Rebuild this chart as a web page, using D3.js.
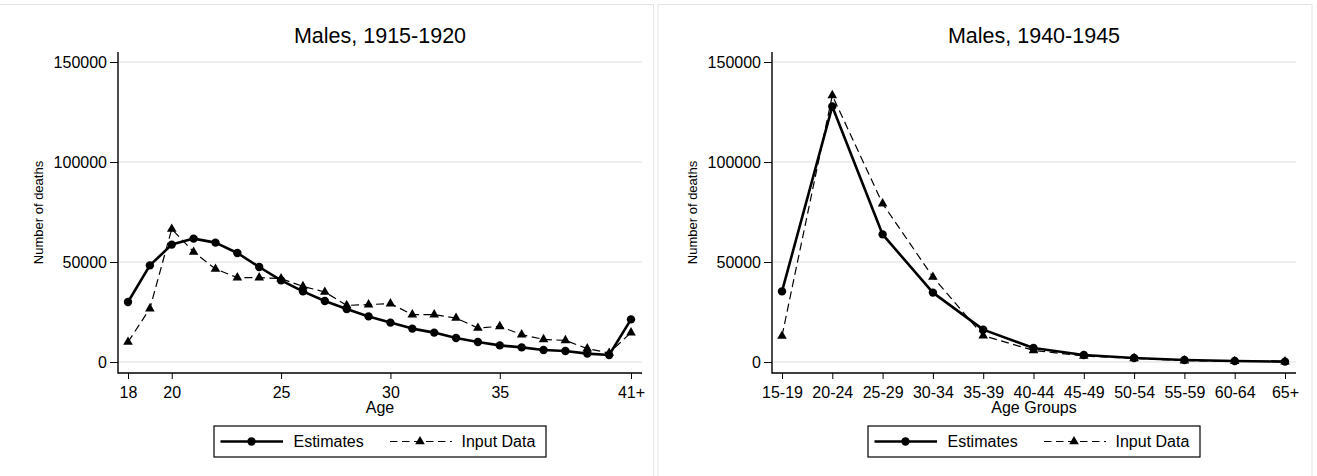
<!DOCTYPE html>
<html>
<head>
<meta charset="utf-8">
<script src="https://cdn.jsdelivr.net/npm/d3@7"></script>
<style>
  body { margin: 0; background: #fff; }
  svg { display: block; font-family: "Liberation Sans", Arial, Helvetica, sans-serif; }
</style>
</head>
<body>
<svg id="chart" width="1317" height="476"></svg>
<script>
// ---- data ----
const ages = [18, 19, 20, 21, 22, 23, 24, 25, 26, 27, 28, 29, 30, 31, 32, 33, 34, 35, 36, 37, 38, 39, 40, 41];
const ageTicks = [18, 20, 25, 30, 35, 41];
const est1915 = [30000, 48300, 58700, 61700, 59700, 54500, 47500, 40800, 35300, 30500, 26500, 22800,
                 19700, 16700, 14700, 12000, 10000, 8300, 7300, 6000, 5500, 4200, 3500, 21300];
const input1915 = [10000, 26700, 66500, 55000, 46500, 42200, 42200, 41700, 37800, 35000, 28300, 28700,
                   29200, 23700, 23700, 22000, 17000, 17800, 13700, 11300, 10800, 6700, 4500, 14700];

const ageGroups = ['15-19', '20-24', '25-29', '30-34', '35-39', '40-44', '45-49', '50-54', '55-59', '60-64', '65+'];
const est1940 = [35300, 127800, 63800, 34700, 16200, 7000, 3500, 2000, 1000, 500, 200];
const input1940 = [13000, 133300, 79200, 42500, 13200, 5800, 3000, 1800, 700, 400, 200];

const yTicks = [0, 50000, 100000, 150000];

const svg = d3.select('#chart');

// light frame round each sub-graph
[[-1, 653], [657.5, 1311.5]].forEach(([x0, x1]) => {
  svg.append('rect')
    .attr('x', x0 + 0.5).attr('y', 4.5)
    .attr('width', x1 - x0).attr('height', 480)
    .attr('fill', 'none').attr('stroke', '#e4e4e4');
});

function panel(opts) {
  const L = opts.left, R = L + 524, T = 52, B = 373;
  const g = svg.append('g');
  const y = d3.scaleLinear().domain([0, 150000]).range([B - 11, T + 10]);
  const x = opts.x.range([L + 10, R - 11]);

  // gridlines
  g.selectAll('.grid').data(yTicks).enter().append('line')
    .attr('x1', L).attr('x2', R)
    .attr('y1', d => y(d)).attr('y2', d => y(d))
    .attr('stroke', '#e9e9e9').attr('stroke-width', 1.5);

  // axes
  const ya = g.append('g').attr('transform', `translate(${L},0)`)
    .call(d3.axisLeft(y).tickValues(yTicks).tickSize(8).tickPadding(3).tickFormat(d3.format('d')));
  ya.select('.domain').remove();
  ya.selectAll('text').attr('font-size', 16).attr('fill', '#000').attr('font-family', null);
  ya.selectAll('line').attr('stroke', '#000');

  const xa = g.append('g').attr('transform', `translate(0,${B})`)
    .call(d3.axisBottom(x).tickValues(opts.tickValues).tickSize(6).tickPadding(8).tickFormat(opts.tickFormat));
  xa.select('.domain').remove();
  xa.selectAll('text').attr('font-size', 16).attr('fill', '#000').attr('font-family', null);
  xa.selectAll('line').attr('stroke', '#000');

  g.append('path')
    .attr('d', `M${L},${T}V${B}H${R}`)
    .attr('fill', 'none').attr('stroke', '#000').attr('stroke-width', 1.4);

  const cx = (L + R) / 2;
  g.append('text').attr('x', cx).attr('y', 43).attr('text-anchor', 'middle')
    .attr('font-size', 21.5).text(opts.title);
  g.append('text').attr('x', cx).attr('y', 413).attr('text-anchor', 'middle')
    .attr('font-size', 16).text(opts.xTitle);
  g.append('text')
    .attr('transform', `translate(${L - 75},${(T + B) / 2}) rotate(-90)`)
    .attr('text-anchor', 'middle').attr('font-size', 13).text('Number of deaths');

  // series
  const line = d3.line().x((d, i) => x(opts.xs[i])).y(d => y(d));
  g.append('path').datum(opts.input)
    .attr('d', line).attr('fill', 'none').attr('stroke', '#000')
    .attr('stroke-width', 1.2).attr('stroke-dasharray', '8,4.5');
  const tri = d3.symbol().type(d3.symbolTriangle).size(40);
  g.selectAll('.tri').data(opts.input).enter().append('path')
    .attr('transform', (d, i) => `translate(${x(opts.xs[i])},${y(d)})`)
    .attr('d', tri()).attr('fill', '#000');

  g.append('path').datum(opts.est)
    .attr('d', line).attr('fill', 'none').attr('stroke', '#000')
    .attr('stroke-width', 2.6).attr('stroke-linejoin', 'round');
  g.selectAll('.dot').data(opts.est).enter().append('circle')
    .attr('cx', (d, i) => x(opts.xs[i])).attr('cy', d => y(d))
    .attr('r', 4.2).attr('fill', '#000');

  // legend
  const lx = cx - 166, ly = 441.5;
  const lg = g.append('g');
  lg.append('rect').attr('x', lx).attr('y', 426).attr('width', 332).attr('height', 31)
    .attr('fill', '#fff').attr('stroke', '#000').attr('stroke-width', 1.2);
  lg.append('line').attr('x1', lx + 6.5).attr('x2', lx + 69).attr('y1', ly).attr('y2', ly)
    .attr('stroke', '#000').attr('stroke-width', 2.6);
  lg.append('circle').attr('cx', lx + 37.5).attr('cy', ly).attr('r', 4.2).attr('fill', '#000');
  lg.append('text').attr('x', lx + 79.5).attr('y', ly + 5.8).attr('font-size', 16).text('Estimates');
  lg.append('line').attr('x1', lx + 176).attr('x2', lx + 238).attr('y1', ly).attr('y2', ly)
    .attr('stroke', '#000').attr('stroke-width', 1.2).attr('stroke-dasharray', '7.5,4.5');
  lg.append('path').attr('transform', `translate(${lx + 206},${ly})`).attr('d', tri()).attr('fill', '#000');
  lg.append('text').attr('x', lx + 247.5).attr('y', ly + 5.8).attr('font-size', 16).text('Input Data');
}

panel({
  left: 118,
  title: 'Males, 1915-1920',
  xTitle: 'Age',
  x: d3.scaleLinear().domain([18, 41]),
  xs: ages,
  tickValues: ageTicks,
  tickFormat: d => d === 41 ? '41+' : d,
  est: est1915,
  input: input1915
});

panel({
  left: 772,
  title: 'Males, 1940-1945',
  xTitle: 'Age Groups',
  x: d3.scalePoint().domain(ageGroups),
  xs: ageGroups,
  tickValues: ageGroups,
  tickFormat: d => d,
  est: est1940,
  input: input1940
});
</script>
</body>
</html>
